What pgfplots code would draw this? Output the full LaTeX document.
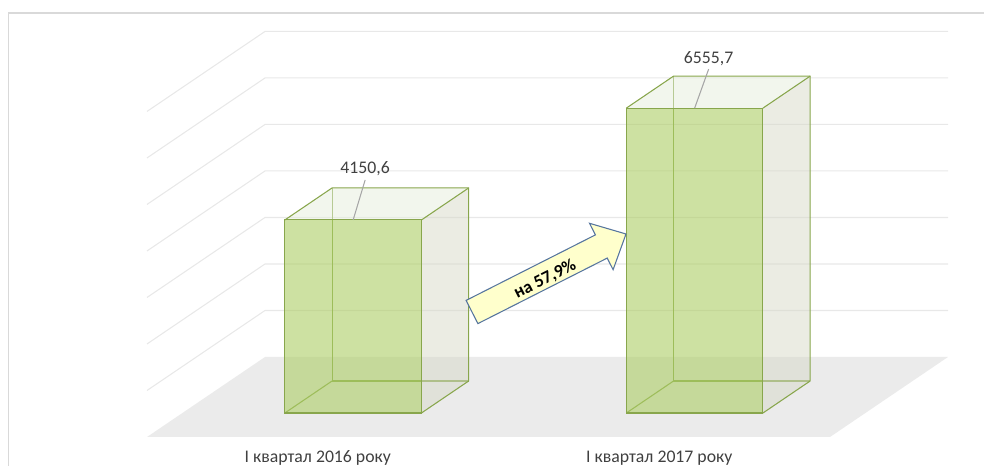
\documentclass[border=0pt]{standalone}
\usepackage{pgfplots}
\pgfplotsset{compat=1.18}
\usepackage{fontspec}
\setmainfont{Carlito}

\definecolor{floorc}{HTML}{EBEBEB}
\definecolor{gridc}{HTML}{E8E8E8}
\definecolor{edgec}{HTML}{88A64C}
\definecolor{frontc}{RGB}{172,205,100}
\definecolor{sidec}{RGB}{215,217,200}
\definecolor{topc}{RGB}{230,238,220}
\definecolor{leadc}{HTML}{A6A6A6}
\definecolor{textc}{HTML}{404040}
\definecolor{arrowfill}{HTML}{FFFFCC}
\definecolor{arrowc}{HTML}{56759E}
\definecolor{borderc}{HTML}{D9D9D9}

\newcommand\lbl{\fontsize{13.3}{16}\selectfont}

% one 3D bar: #1 = category position, #2 = value
\newcommand\cuboid[2]{%
  \pgfmathsetmacro\xa{#1-0.2}%
  \pgfmathsetmacro\xb{#1+0.2}%
  \edef\doit{%
    \noexpand\addplot3[edgec, line width=0.8pt] coordinates {(\xa,0.7,#2) (\xa,0.7,0) (\xb,0.7,0)};%
    \noexpand\addplot3[edgec, line width=0.8pt] coordinates {(\xa,0.3,0) (\xa,0.7,0)};%
    \noexpand\addplot3[draw=none, fill=sidec, fill opacity=0.5] coordinates {(\xb,0.3,0) (\xb,0.7,0) (\xb,0.7,#2) (\xb,0.3,#2)} -- cycle;%
    \noexpand\addplot3[draw=none, fill=topc, fill opacity=0.5] coordinates {(\xa,0.3,#2) (\xb,0.3,#2) (\xb,0.7,#2) (\xa,0.7,#2)} -- cycle;%
    \noexpand\addplot3[draw=none, fill=frontc, fill opacity=0.6] coordinates {(\xa,0.3,0) (\xb,0.3,0) (\xb,0.3,#2) (\xa,0.3,#2)} -- cycle;%
    \noexpand\addplot3[edgec, line width=0.8pt] coordinates {(\xa,0.3,0) (\xb,0.3,0) (\xb,0.3,#2) (\xa,0.3,#2)} -- cycle;%
    \noexpand\addplot3[edgec, line width=0.8pt] coordinates {(\xa,0.3,#2) (\xa,0.7,#2) (\xb,0.7,#2) (\xb,0.7,0) (\xb,0.3,0)};%
    \noexpand\addplot3[edgec, line width=0.8pt] coordinates {(\xb,0.3,#2) (\xb,0.7,#2)};%
  }\doit
}

\begin{document}
\begin{tikzpicture}
\begin{axis}[
  x={(256.125pt,0pt)}, y={(88.5pt,60pt)}, z={(0pt,0.034883pt)},
  xmin=-0.5, xmax=1.5, ymin=0, ymax=1, zmin=0, zmax=7000,
  hide axis, clip=false,
]
  % floor
  \addplot3[fill=floorc, draw=none] coordinates {(-0.5,0,0) (1.5,0,0) (1.5,1,0) (-0.5,1,0)} -- cycle;
  % walls grid
  \pgfplotsinvokeforeach{1000,2000,...,7000}{
    \draw[gridc, line width=0.8pt] (axis cs:-0.5,0,#1) -- (axis cs:-0.5,1,#1) -- (axis cs:1.5,1,#1);
  }

  \cuboid{0}{4150.6}
  \cuboid{1}{6555.7}

  % data labels
  \draw[leadc, line width=0.8pt] (axis cs:0,0.3,4150.6) -- ++(9pt,30pt)
    node[anchor=base, yshift=4.5pt, text=textc, font=\lbl] {4150,6};
  \draw[leadc, line width=0.8pt] (axis cs:1,0.3,6555.7) -- ++(10.5pt,29.25pt)
    node[anchor=base, yshift=4.5pt, text=textc, font=\lbl] {6555,7};

  % category labels
  \node[anchor=base, yshift=-19.5pt, text=textc, font=\lbl] at (axis cs:0,0,0) {І квартал 2016 року};
  \node[anchor=base, yshift=-19.5pt, text=textc, font=\lbl] at (axis cs:1,0,0) {І квартал 2017 року};

  \coordinate (FL) at (axis cs:-0.5,0,0);
\end{axis}

\begin{scope}[shift={(FL)}, x=0.75pt, y=-0.75pt, shift={(-147,-437)}]
  \draw[borderc, line width=1.2pt] (8.5,13) rectangle (1100,600);
  \filldraw[fill=arrowfill, draw=arrowc, line width=0.8pt]
    (466.1,300.4) -- (595.4,234.9) -- (589.5,223.3) -- (626.0,234.0)
    -- (613.1,269.7) -- (607.2,258.1) -- (477.9,323.6) -- cycle;
  \node[rotate=26.9, font=\lbl\bfseries] at (545,279) {на 57,9\%};
  \pgfresetboundingbox
  \path[use as bounding box] (0,0) rectangle (984,466);
\end{scope}
\end{tikzpicture}
\end{document}
